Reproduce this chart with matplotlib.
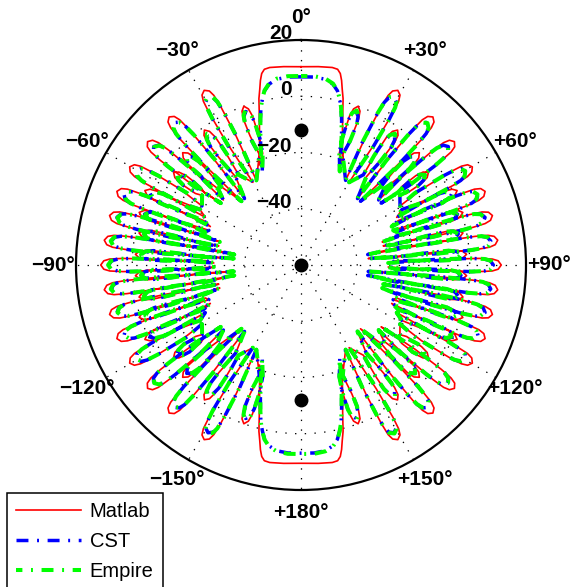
import numpy as np
import matplotlib
matplotlib.use("Agg")
import matplotlib.pyplot as plt

plt.rcParams["font.family"] = ["Liberation Sans", "DejaVu Sans"]
plt.rcParams["lines.scale_dashes"] = False

# ---------------- data ----------------
R_MIN, R_MAX = -60.0, 20.0
ring_levels = [0, -20, -40]
ring_label_levels = [20, 0, -20, -40]
ring_labels = ["20", "0", "\u221220", "\u221240"]
angle_ticks = [0, 30, 60, 90, 120, 150, 180, 210, 240, 270, 300, 330]
angle_labels = ["0°", "+30°", "+60°", "+90°", "+120°", "+150°", "+180°",
                "\u2212150°", "\u2212120°", "\u221290°", "\u221260°", "\u221230°"]
series_names = ["Matlab", "CST", "Empire"]

# main lobe, right half (deg, dB)
matlab_main_deg = [0, 5, 9, 10.6, 11.6, 12.4, 13.2, 14.2, 15.5, 17.5, 20, 22.5]
matlab_main_db = [10.5, 10.8, 11.1, 10.8, 9.5, 7.2, 4.2, 1.0, -4.5, -11.0, -17.0, -21.5]
cst_main_deg = [0, 4, 7.5, 10, 11.8, 13, 14.2, 15.5, 17.5, 20, 22.5]
cst_main_db = [6.9, 7.0, 6.6, 5.3, 3.3, 0.8, -2.0, -6.0, -12.0, -18.5, -24.0]
empire_main_deg = [0, 4, 7.5, 10, 11.8, 13, 14.2, 15.5, 17.5, 20, 22.5]
empire_main_db = [7.2, 7.3, 6.8, 5.5, 3.4, 0.9, -2.0, -6.0, -12.0, -18.5, -24.0]

# side lobes in the first quadrant (peak angle deg, peak dB, inner end dB)
big_lobe_deg = [29.0, 41.7, 51.2, 60.2, 68.2, 75.5, 82.8, 90.0]
matlab_big_db = [11.0, 10.5, 10.0, 10.2, 10.5, 10.3, 10.5, 11.2]
cst_big_db = [8.2, 7.8, 7.2, 7.5, 7.8, 7.6, 8.0, 8.4]
empire_big_db = [8.5, 7.6, 7.0, 7.3, 7.6, 7.4, 8.2, 8.6]
big_inner_db = [-26.0, -29.0, -24.0, -19.0, -25.0, -30.0, -36.0, -29.0]

small_lobe_deg = [19.8, 35.6, 46.5, 54.0, 64.5, 72.0, 78.8, 86.3]
matlab_small_db = [0.0, -1.0, -2.0, -4.0, 1.5, 0.5, -1.3, -1.0]
cst_small_db = [-2.0, -3.0, -4.0, -5.5, -0.5, -1.5, -3.0, -3.0]
empire_small_db = [-1.6, -2.6, -4.0, -5.5, -0.8, -1.8, -3.0, -3.0]
small_inner_db = [-18.0, -21.0, -20.0, -17.0, -22.0, -24.0, -26.0, -26.0]

marker_deg = [0, 0, 180]
marker_db = [-12.0, -60.0, -12.0]

# ---------------- geometry helpers ----------------
PX_PER_DB = 225.0 / (R_MAX - R_MIN)
# (distance from tip in px, half width in px) -> lobe outline shapes
BIG_SHAPE = [(None, 2.0), (55, 5.8), (22, 6.6), (9, 6.0), (3, 4.2), (0, 0.0)]
SMALL_SHAPE = [(None, 1.8), (30, 4.2), (12, 4.8), (4, 3.4), (0, 0.0)]


def lobe_outline(center, tip_db, inner_db, shape):
    rt = (tip_db - R_MIN) * PX_PER_DB
    rin = (inner_db - R_MIN) * PX_PER_DB
    lt, lr = [], []
    for d, h in shape:
        if d is None:
            r = rin
        else:
            if rt - d <= rin + 4:
                continue
            r = rt - d
        dt = np.degrees(np.arctan2(h, r))
        lt.append(center - dt)
        lr.append(r / PX_PER_DB + R_MIN)
    rt_ = [2 * center - t for t in lt[-2::-1]]
    rr_ = lr[-2::-1]
    return lt + rt_, lr + rr_


def full_path(main_deg, main_db, big_db, small_db):
    t = list(main_deg)
    r = list(main_db)
    lobes = sorted([(a, b, c, BIG_SHAPE) for a, b, c in
                    zip(big_lobe_deg[:-1], big_db[:-1], big_inner_db[:-1])]
                   + [(a, b, c, SMALL_SHAPE) for a, b, c in
                      zip(small_lobe_deg, small_db, small_inner_db)],
                   key=lambda x: x[0])
    for c, L, Lin, shp in lobes:
        pt, pr = lobe_outline(c, L, Lin, shp)
        t += pt
        r += pr
    ct, cr = lobe_outline(big_lobe_deg[-1], big_db[-1], big_inner_db[-1], BIG_SHAPE)
    q2t = [180 - a for a in t[::-1]]
    q2r = r[::-1]
    right_t = t + ct + q2t
    right_r = r + cr + q2r
    left_t = [360 - a for a in right_t[::-1]]
    left_r = right_r[::-1]
    return np.radians(right_t + left_t), np.array(right_r + left_r)


# ---------------- figure ----------------
fig = plt.figure(figsize=(5.70, 5.87), dpi=100)
ax = fig.add_axes([76 / 570, 97 / 587, 450 / 570, 450 / 587], projection="polar")
ax.set_theta_zero_location("N")
ax.set_theta_direction(-1)
ax.set_ylim(R_MIN, R_MAX)
ax.grid(False)
ax.set_xticks([])
ax.set_yticks([])
ax.spines["polar"].set_linewidth(1.6)
ax.spines["polar"].set_color("black")

dots = (0, (1, 6))
th = np.linspace(0, 2 * np.pi, 721)
for lev in ring_levels:
    ax.plot(th, np.full_like(th, lev), color="black", lw=0.9, ls=dots, zorder=1)
for a in angle_ticks[:6]:
    ax.plot(np.radians([a, a, a + 180]), [R_MAX, R_MIN, R_MAX],
            color="black", lw=0.9, ls=dots, zorder=1)

t_m, r_m = full_path(matlab_main_deg, matlab_main_db, matlab_big_db, matlab_small_db)
t_c, r_c = full_path(cst_main_deg, cst_main_db, cst_big_db, cst_small_db)
t_e, r_e = full_path(empire_main_deg, empire_main_db, empire_big_db, empire_small_db)

ax.plot(t_m, r_m, color="#ff0000", lw=1.2, label=series_names[0], zorder=3)
ax.plot(t_c, r_c, color="#0000ff", lw=2.5, ls=(0, (8.6, 6.2, 1.4, 6.2)),
        label=series_names[1], zorder=4)
ax.plot(t_e, r_e, color="#00ff00", lw=2.9, ls=(4, (8.6, 6.2, 1.4, 6.2)),
        label=series_names[2], zorder=5)

ax.plot(np.radians(marker_deg), marker_db, "o", color="black", ms=9, zorder=6)

for a, lab in zip(angle_ticks, angle_labels):
    ax.text(np.radians(a), R_MIN + 1.1 * (R_MAX - R_MIN), lab, ha="center", va="center",
            fontsize=15, fontweight="bold", clip_on=False)

for lev, lab in zip(ring_label_levels, ring_labels):
    rpx = (lev - R_MIN) * PX_PER_DB + 6.5
    xpx = -9.0
    ang = np.arctan2(xpx, rpx)
    rr = np.hypot(xpx, rpx) / PX_PER_DB + R_MIN
    ax.text(ang, rr, lab, ha="right", va="center", fontsize=15,
            fontweight="bold", clip_on=False, zorder=7)

leg = fig.legend(loc="upper left", bbox_to_anchor=(7 / 570, 1 - 493 / 587),
                 fontsize=14.5, handlelength=3.2, handletextpad=0.45,
                 labelspacing=0.55, borderpad=0.45, borderaxespad=0,
                 fancybox=False, framealpha=1, edgecolor="black")
leg.get_frame().set_linewidth(1.1)

fig.savefig("out.png", dpi=100)
